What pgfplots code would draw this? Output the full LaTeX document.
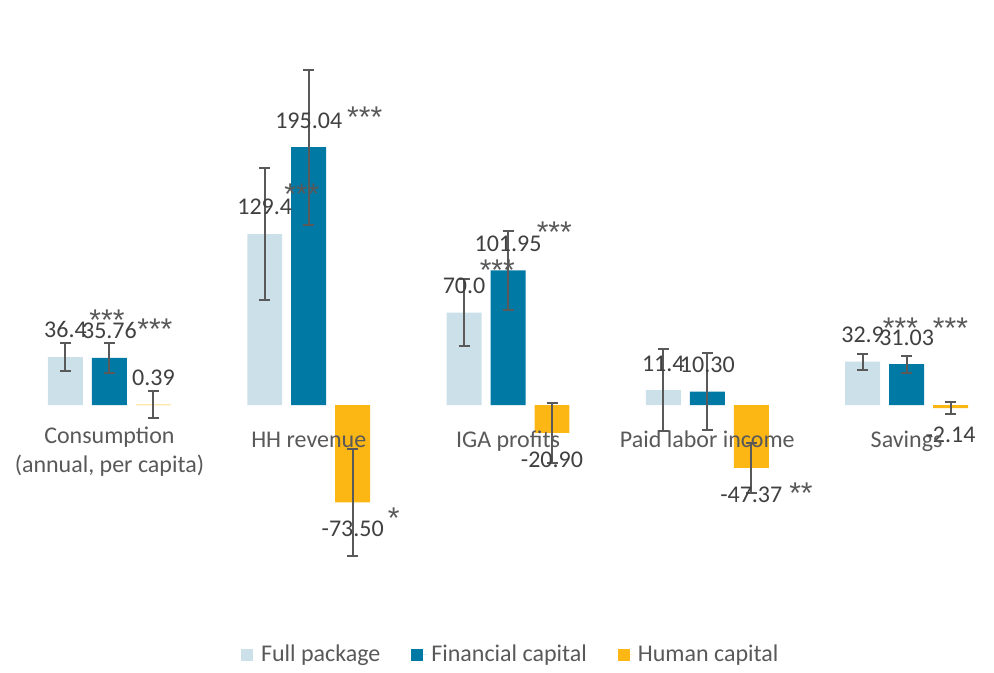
\documentclass[border=0pt]{standalone}
\usepackage{fontspec}
\setmainfont{Carlito}
\newfontfamily\starfamily{Liberation Sans}
\usepackage{pgfplots}
\usepackage{pgfplotstable}
\pgfplotsset{compat=1.18}

% standard layers, with the tick labels moved above the plots
\pgfplotsset{
  layers/labels over bars/.define layer set={
    axis background,axis grid,axis ticks,axis lines,pre main,main,axis tick labels,axis descriptions,axis foreground
  }{
    grid style={/pgfplots/on layer=axis grid},
    tick style={/pgfplots/on layer=axis ticks},
    axis line style={/pgfplots/on layer=axis lines},
    label style={/pgfplots/on layer=axis descriptions},
    legend style={/pgfplots/on layer=axis descriptions},
    title style={/pgfplots/on layer=axis descriptions},
    ticklabel style={/pgfplots/on layer=axis tick labels},
  },
}

\definecolor{fullc}{HTML}{CCE0EA}
\definecolor{finc}{HTML}{0079A5}
\definecolor{humc}{HTML}{FDB714}
\definecolor{errc}{HTML}{595959}
\definecolor{gridc}{HTML}{D9D9D9}
\definecolor{txtc}{HTML}{595959}
\definecolor{valc}{HTML}{404040}

% Estimated impacts with their error margins
\pgfplotstableread{
x  full  efull  fin     efin  hum     ehum
0  36.4  10.3   35.76   11.5  0.39    10.4
1  129.4 49.6   195.04  58.7  -73.50  40.6
2  70.0  25.6   101.95  29.9  -20.90  22.9
3  11.4  30.8   10.30   29.2  -47.37  19.2
4  32.9  6.0    31.03   6.3   -2.14   4.6
}\impacts

% Significance stars
\pgfplotstableread{
x       y      s
-0.0125 61.7   ***
0.228   54.9   ***
0.965   156.7  ***
1.281   215.1  ***
1.427   -88.4  *
1.946   98.9   ***
2.232   127.8  ***
3.470   -69.0  **
3.969   55.7   ***
4.220   55.7   ***
}\stars

\newcommand{\chartfont}{\fontsize{12}{14.5}\selectfont}
\newcommand{\starfont}{\starfamily\fontsize{15}{16}\selectfont}
% offset of each group member from the category centre
\newcommand{\grpoff}{0.2207}

\begin{document}
\begin{tikzpicture}
\path (0,0) rectangle (497pt,334pt);
\begin{axis}[
  set layers=labels over bars,
  at={(4.5pt,32pt)}, anchor=south west,
  scale only axis, width=492.5pt, height=297.85pt,
  xmin=-0.504, xmax=4.436,
  ymin=-150, ymax=300,
  ytick={-150,-100,...,300}, yticklabels={},
  xtick={0,1,2,3,4},
  xticklabels={{Consumption\\(annual, per capita)},{HH revenue},{IGA profits},{Paid labor income},{Savings}},
  axis x line=middle, axis y line=none,
  hide obscured x ticks=false,
  axis line style={draw=none},
  major tick length=0pt,
  ymajorgrids, major grid style={color=gridc, line width=1pt},
  xticklabel style={font=\chartfont\strut, text=txtc, align=center, anchor=north, inner sep=0pt, yshift=-10.6pt},
  clip=false,
  legend columns=3,
  legend style={at={(0.5107,-0.0856)}, anchor=center, draw=none, fill=none,
    font=\chartfont, text=txtc,
    /tikz/every even column/.append style={column sep=13.5pt}},
  legend image code/.code={\fill[#1] (0pt,-3pt) rectangle (6pt,3pt); \path (0pt,0pt) -- (8pt,0pt);},
  error bars/y dir=both, error bars/y explicit,
  error bars/error bar style={color=errc, line width=1pt},
  error bars/error mark options={color=errc, line width=1pt, mark size=2.75pt, rotate=90},
  nodes near coords,
  every node near coord/.append style={font=\chartfont, text=valc, inner sep=9.25pt},
  /pgf/number format/assume math mode=true,
]
\addplot[ybar, bar width=0.1755, bar shift=0, fill=fullc, draw=none,
  /pgf/number format/fixed, /pgf/number format/fixed zerofill, /pgf/number format/precision=1]
  table[x expr=\thisrow{x}-\grpoff, y=full, y error=efull] {\impacts};
\addplot[ybar, bar width=0.1755, bar shift=0, fill=finc, draw=none,
  /pgf/number format/fixed, /pgf/number format/fixed zerofill, /pgf/number format/precision=2]
  table[x=x, y=fin, y error=efin] {\impacts};
\addplot[ybar, bar width=0.1755, bar shift=0, fill=humc, draw=none,
  /pgf/number format/fixed, /pgf/number format/fixed zerofill, /pgf/number format/precision=2]
  table[x expr=\thisrow{x}+\grpoff, y=hum, y error=ehum] {\impacts};
\legend{Full package, Financial capital, Human capital}
\addplot[draw=none, mark=none, error bars/y dir=none, nodes near coords, point meta=explicit symbolic,
  every node near coord/.style={anchor=base, inner sep=0pt, yshift=-3.3pt, font=\starfont, text=txtc}]
  table[x=x, y=y, meta=s] {\stars};
\end{axis}
\end{tikzpicture}
\end{document}
